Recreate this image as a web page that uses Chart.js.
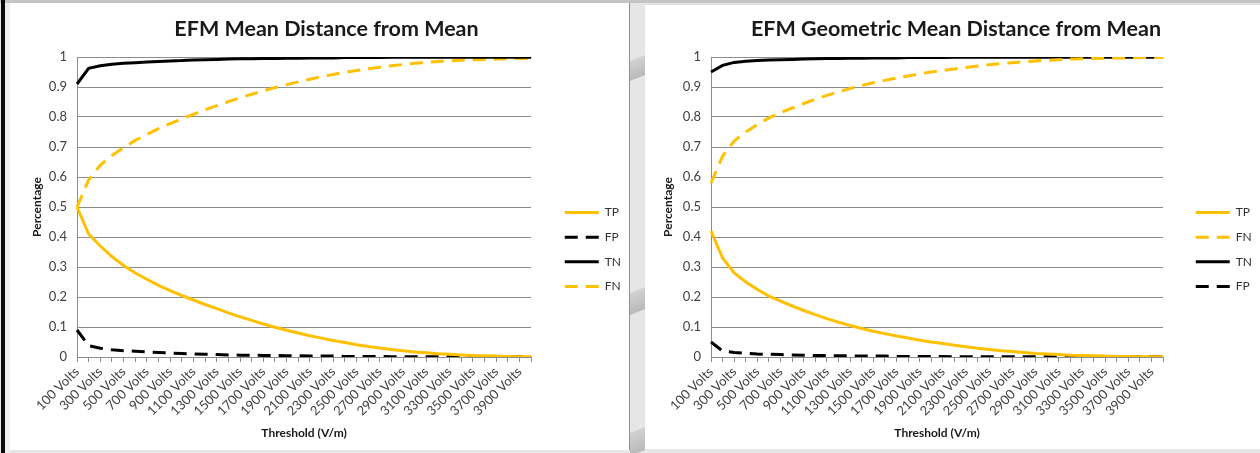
<!DOCTYPE html>
<html>
<head>
<meta charset="utf-8">
<title>EFM distance from mean thresholds</title>
<script src="https://cdn.jsdelivr.net/npm/chart.js@4.4.1/dist/chart.umd.min.js"></script>
<style>
  html, body { margin: 0; padding: 0; width: 1260px; height: 453px; overflow: hidden; background: #e6e6e6; }
  #page { position: relative; width: 1260px; height: 453px; }
  .topline { position: absolute; left: 0; top: 0; width: 1260px; height: 3px; background: #c4c4c4; }
  .leftbar { position: absolute; left: 1px; top: 0; width: 4px; height: 453px; background: #0a0a0a; }
  .leftstrip { position: absolute; left: 5px; top: 3px; width: 5px; height: 450px; background: #eeeeee; }
  .panel { position: absolute; background: #ffffff; }
  #panelA { left: 10px; top: 3px; width: 619px; height: 447px; border-right: 1px solid #8f8f8f; }
  #panelB { left: 645px; top: 4px; width: 615px; height: 444px; border-top: 1px solid #dedede; }
  .blob { position: absolute; left: 630px; width: 15px; background: linear-gradient(#d2d2d2, #b9b9b9); transform: skewY(-22deg); }
  canvas { position: absolute; top: 0; }
  #meanChart { left: 0; }
  #geoChart { left: 645px; }
</style>
</head>
<body>
<div id="page">
  <div class="topline"></div>
  <div class="leftstrip"></div>
  <div class="leftbar"></div>
  <div class="panel" id="panelA"></div>
  <div class="panel" id="panelB"></div>
  <div class="blob" style="top:58px;height:20px;"></div>
  <div class="blob" style="top:290px;height:22px;"></div>
  <div class="blob" style="top:430px;height:23px;"></div>
  <canvas id="meanChart" width="631" height="499"></canvas>
  <canvas id="geoChart" width="617" height="499"></canvas>
</div>
<script>
// Threshold categories (V/m), every 100 volts
const voltLabels = [
  '100 Volts', '200 Volts', '300 Volts', '400 Volts', '500 Volts',
  '600 Volts', '700 Volts', '800 Volts', '900 Volts', '1000 Volts',
  '1100 Volts', '1200 Volts', '1300 Volts', '1400 Volts', '1500 Volts',
  '1600 Volts', '1700 Volts', '1800 Volts', '1900 Volts', '2000 Volts',
  '2100 Volts', '2200 Volts', '2300 Volts', '2400 Volts', '2500 Volts',
  '2600 Volts', '2700 Volts', '2800 Volts', '2900 Volts', '3000 Volts',
  '3100 Volts', '3200 Volts', '3300 Volts', '3400 Volts', '3500 Volts',
  '3600 Volts', '3700 Volts', '3800 Volts', '3900 Volts', '4000 Volts'
];

// Percentage axis labels
const pctLabels = ['0', '0.1', '0.2', '0.3', '0.4', '0.5', '0.6', '0.7', '0.8', '0.9', '1'];

// EFM mean distance from mean
const meanTP = [0.50, 0.41, 0.37, 0.335, 0.305, 0.28, 0.259, 0.239, 0.221, 0.205,
                0.19, 0.175, 0.161, 0.147, 0.134, 0.122, 0.11, 0.099, 0.089, 0.08,
                0.071, 0.063, 0.055, 0.048, 0.041, 0.035, 0.03, 0.025, 0.021, 0.017,
                0.014, 0.011, 0.009, 0.007, 0.005, 0.004, 0.003, 0.002, 0.001, 0.001];
const meanFP = [0.09, 0.038, 0.029, 0.024, 0.021, 0.019, 0.017, 0.015, 0.013, 0.012,
                0.01, 0.009, 0.008, 0.007, 0.006, 0.006, 0.005, 0.005, 0.004, 0.004,
                0.003, 0.003, 0.003, 0.002, 0.002, 0.002, 0.002, 0.001, 0.001, 0.001,
                0.001, 0.001, 0.001, 0.001, 0.001, 0.001, 0.001, 0.001, 0.001, 0.001];
const meanTN = [0.91, 0.962, 0.971, 0.976, 0.979, 0.981, 0.983, 0.985, 0.987, 0.988,
                0.99, 0.991, 0.992, 0.993, 0.994, 0.994, 0.995, 0.995, 0.996, 0.996,
                0.997, 0.997, 0.997, 0.998, 0.998, 0.998, 0.998, 0.999, 0.999, 0.999,
                0.999, 0.999, 0.999, 0.999, 0.999, 0.999, 0.999, 0.999, 0.999, 0.999];
const meanFN = [0.50, 0.59, 0.64, 0.672, 0.698, 0.722, 0.742, 0.761, 0.778, 0.794,
                0.809, 0.824, 0.838, 0.851, 0.864, 0.876, 0.887, 0.898, 0.908, 0.917,
                0.926, 0.934, 0.942, 0.949, 0.955, 0.961, 0.966, 0.971, 0.975, 0.979,
                0.982, 0.985, 0.987, 0.989, 0.991, 0.992, 0.993, 0.994, 0.995, 0.996];

// EFM geometric mean distance from mean
const geoTP = [0.42, 0.33, 0.28, 0.25, 0.225, 0.203, 0.186, 0.17, 0.155, 0.141,
               0.128, 0.116, 0.105, 0.095, 0.086, 0.078, 0.07, 0.063, 0.056, 0.05,
               0.045, 0.039, 0.034, 0.029, 0.025, 0.021, 0.018, 0.015, 0.012, 0.01,
               0.008, 0.006, 0.005, 0.004, 0.003, 0.002, 0.002, 0.001, 0.001, 0.001];
const geoFN = [0.58, 0.67, 0.72, 0.75, 0.775, 0.797, 0.814, 0.83, 0.845, 0.859,
               0.872, 0.884, 0.895, 0.905, 0.914, 0.922, 0.93, 0.937, 0.944, 0.95,
               0.955, 0.96, 0.965, 0.97, 0.974, 0.978, 0.981, 0.984, 0.987, 0.989,
               0.991, 0.993, 0.994, 0.995, 0.996, 0.997, 0.997, 0.998, 0.998, 0.998];
const geoTN = [0.95, 0.972, 0.982, 0.986, 0.988, 0.99, 0.991, 0.992, 0.993, 0.994,
               0.995, 0.995, 0.996, 0.996, 0.997, 0.997, 0.997, 0.998, 0.998, 0.998,
               0.998, 0.999, 0.999, 0.999, 0.999, 0.999, 0.999, 0.999, 0.999, 0.999,
               0.999, 0.999, 0.999, 0.999, 0.999, 0.999, 0.999, 0.999, 0.999, 0.999];
const geoFP = [0.05, 0.02, 0.015, 0.012, 0.01, 0.009, 0.008, 0.007, 0.006, 0.005,
               0.005, 0.004, 0.004, 0.003, 0.003, 0.003, 0.002, 0.002, 0.002, 0.002,
               0.002, 0.001, 0.001, 0.001, 0.001, 0.001, 0.001, 0.001, 0.001, 0.001,
               0.001, 0.001, 0.001, 0.001, 0.001, 0.001, 0.001, 0.001, 0.001, 0.001];

const GOLD = '#FFC000';
const INK = '#000000';
const GRID = '#8c8c8c';
const DASH = [13, 8];

Chart.defaults.font.family = "Lato, 'Open Sans', sans-serif";
Chart.defaults.color = '#404040';

function series(label, data, color, dashed) {
  return {
    label, data,
    borderColor: color,
    backgroundColor: color,
    borderWidth: 3,
    borderDash: dashed ? DASH : [],
    borderCapStyle: 'butt',
    pointRadius: 0,
    pointHoverRadius: 0,
    fill: false,
    tension: 0
  };
}

// Legend entries drawn as short line samples carrying each series' dash pattern
function lineLegendLabels(chart) {
  const items = Chart.defaults.plugins.legend.labels.generateLabels(chart);
  items.forEach((item) => {
    const ds = chart.data.datasets[item.datasetIndex];
    item.lineDash = ds.borderDash;
    item.lineWidth = ds.borderWidth;
    item.strokeStyle = ds.borderColor;
    item.pointStyle = 'line';
  });
  return items;
}

function makeChart(id, titleText, datasets, geom) {
  return new Chart(document.getElementById(id), {
    type: 'line',
    data: { labels: voltLabels, datasets },
    options: {
      responsive: false,
      animation: false,
      events: [],
      layout: { padding: { left: geom.padLeft, right: 0, top: 0, bottom: 0 } },
      plugins: {
        title: {
          display: true,
          text: titleText,
          color: '#1a1a1a',
          font: { size: 21.5, weight: 'bold' },
          padding: { top: 16, bottom: 15.2 }
        },
        legend: {
          position: 'right',
          align: 'center',
          labels: {
            usePointStyle: true,
            pointStyle: 'line',
            pointStyleWidth: 34,
            padding: 12.6,
            color: '#333333',
            font: { size: 12 },
            generateLabels: lineLegendLabels
          }
        },
        tooltip: { enabled: false }
      },
      scales: {
        x: {
          type: 'category',
          offset: false,
          grid: { display: true, drawOnChartArea: false, drawTicks: true, tickLength: 5, color: GRID },
          border: { display: true, color: GRID, width: 1 },
          ticks: {
            autoSkip: false,
            maxRotation: 45,
            minRotation: 45,
            padding: 2,
            color: '#404040',
            font: { size: 13 },
            callback: (v, i) => (i % 2 === 0 ? voltLabels[i] : '')
          },
          title: {
            display: true,
            text: 'Threshold (V/m)',
            color: '#1a1a1a',
            font: { size: 12, weight: 'bold' },
            padding: { top: 0, bottom: 58.8 }
          },
          afterFit: (s) => { s.height = 142; }
        },
        y: {
          min: 0,
          max: 1,
          ticks: {
            stepSize: 0.1,
            padding: 10,
            color: '#404040',
            font: { size: 13 },
            callback: (v, i) => pctLabels[i]
          },
          grid: { color: GRID, drawTicks: false },
          border: { display: true, color: GRID },
          title: {
            display: true,
            text: 'Percentage',
            color: '#1a1a1a',
            font: { size: 12, weight: 'bold' },
            padding: { top: geom.yTitlePad, bottom: 0 }
          },
          afterFit: (s) => { s.width = geom.yWidth; }
        },
        gap: {
          position: 'right',
          display: true,
          grid: { display: false },
          border: { display: false },
          ticks: { display: false },
          afterFit: (s) => { s.width = geom.gap; }
        }
      }
    }
  });
}

makeChart('meanChart', 'EFM Mean Distance from Mean', [
  series('TP', meanTP, GOLD, false),
  series('FP', meanFP, INK, true),
  series('TN', meanTN, INK, false),
  series('FN', meanFN, GOLD, true)
], { padLeft: 22, yWidth: 55, yTitlePad: 8, gap: 21 });

makeChart('geoChart', 'EFM Geometric Mean Distance from Mean', [
  series('TP', geoTP, GOLD, false),
  series('FN', geoFN, GOLD, true),
  series('TN', geoTN, INK, false),
  series('FP', geoFP, INK, true)
], { padLeft: 5, yWidth: 61, yTitlePad: 11, gap: 20 });
</script>
</body>
</html>
